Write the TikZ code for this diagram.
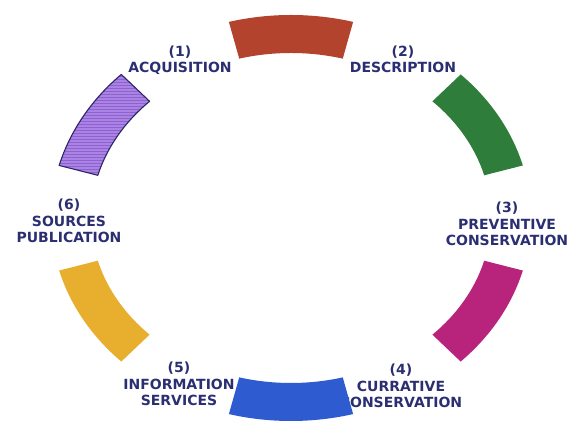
\documentclass[tikz,border=0pt]{standalone}
\usepackage{fontspec}
\setmainfont{DejaVu Sans}
\usetikzlibrary{patterns}
\definecolor{segred}{HTML}{B3432C}
\definecolor{seggreen}{HTML}{2E7D3A}
\definecolor{segmag}{HTML}{B8247C}
\definecolor{segblue}{HTML}{2F5BD0}
\definecolor{segyellow}{HTML}{E8AE2E}
\definecolor{segpurple}{HTML}{AA84E2}
\definecolor{seghatch}{HTML}{9060D2}
\definecolor{segline}{HTML}{2B2766}
\definecolor{labtext}{HTML}{2B2F72}
\newcommand\ringseg[3]{%
  \path[#1] ([shift={(291pt,204pt)}]#2:240pt and 203pt)
    arc[start angle=#2, end angle=#3, x radius=240pt, y radius=203pt]
    -- ([shift={(291pt,204pt)}]#3:200pt and 165pt)
    arc[start angle=#3, end angle=#2, x radius=200pt, y radius=165pt]
    -- cycle;}
\tikzset{
  lab/.style={text=labtext, font=\bfseries\fontsize{14}{16.5}\selectfont, align=center, inner sep=0pt}
}
\begin{document}
\begin{tikzpicture}[x=1pt,y=1pt]
\useasboundingbox (0,0) rectangle (571,422);
\clip (0,0) rectangle (571,422);
\fill[white] (0,0) rectangle (571,422);
% labels
\node[lab] (l1) at (180,362) {(1)\\ACQUISITION};
\node[lab] (l2) at (403,362.5) {(2)\\DESCRIPTION};
\node[lab] (l3) at (507,198) {(3)\\PREVENTIVE\\CONSERVATION};
\node[lab] (l4) at (401,36) {(4)\\CURRATIVE\\CONSERVATION};
\node[lab] (l5) at (179,38) {(5)\\INFORMATION\\SERVICES};
\node[lab] (l6) at (69,201) {(6)\\SOURCES\\PUBLICATION};
% ring segments
\ringseg{fill=segred}{75}{105}
\ringseg{fill=seggreen}{15}{45}
\ringseg{fill=segmag}{-15}{-45}
\ringseg{fill=segblue}{-75}{-105}
\ringseg{fill=segyellow}{195}{225}
\ringseg{fill=segpurple}{135}{165}
\ringseg{pattern=horizontal lines, pattern color=seghatch}{135}{165}
\ringseg{draw=segline, line width=1.1pt, line join=round}{135}{165}
\end{tikzpicture}
\end{document}
